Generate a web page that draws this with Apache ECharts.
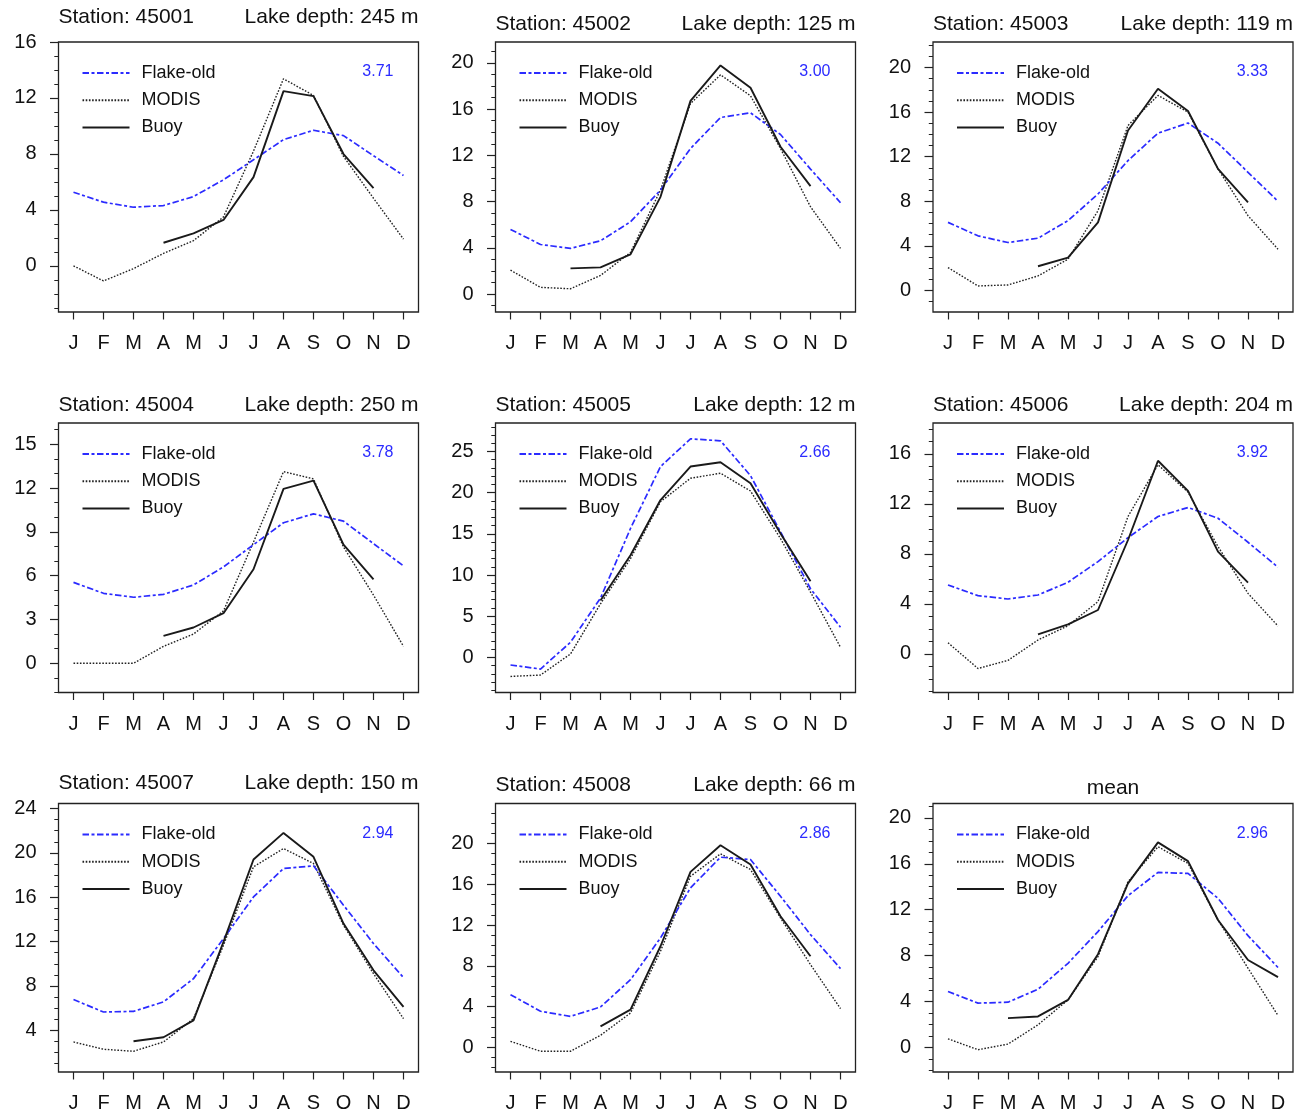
<!DOCTYPE html>
<html>
<head>
<meta charset="utf-8">
<script src="https://cdn.jsdelivr.net/npm/echarts@6/dist/echarts.min.js"></script>
<style>
html,body{margin:0;padding:0;background:#fff;}
#chart{width:1301px;height:1116px;}
</style>
</head>
<body>
<div id="chart"></div>
<script>
// ---------------- data ----------------
const months = ['J','F','M','A','M','J','J','A','S','O','N','D'];
const seriesNames = ['Flake-old','MODIS','Buoy'];
const stations = ['45001','45002','45003','45004','45005','45006','45007','45008','mean'];
const depths = ['245','125','119','250','12','204','150','66',null];
const scores = ['3.71','3.00','3.33','3.78','2.66','3.92','2.94','2.86','2.96'];
const yTicks = [
  [0,4,8,12,16],
  [0,4,8,12,16,20],
  [0,4,8,12,16,20],
  [0,3,6,9,12,15],
  [0,5,10,15,20,25],
  [0,4,8,12,16],
  [4,8,12,16,20,24],
  [0,4,8,12,16,20],
  [0,4,8,12,16,20]
];
const yRanges = [
  [-3.3,16],[-1.55,21.8],[-1.95,22.3],
  [-2.0,16.45],[-4.27,28.46],[-3.1,18.46],
  [0.24,24.45],[-2.42,23.93],[-2.14,21.25]
];
const flakeOld = [
  [5.26,4.55,4.19,4.31,4.95,6.15,7.58,9.02,9.69,9.31,7.87,6.46],
  [5.59,4.29,3.95,4.61,6.25,8.99,12.59,15.27,15.68,13.80,10.81,7.90],
  [6.10,4.89,4.29,4.68,6.25,8.65,11.65,14.11,15.02,13.21,10.60,7.99],
  [5.54,4.79,4.52,4.72,5.36,6.60,8.12,9.62,10.23,9.73,8.19,6.67],
  [-0.93,-1.42,1.83,7.20,15.65,23.17,26.54,26.30,22.07,15.24,8.33,3.66],
  [5.50,4.65,4.38,4.70,5.72,7.37,9.29,10.98,11.70,10.84,8.92,6.92],
  [6.77,5.65,5.71,6.56,8.66,12.27,16.03,18.59,18.83,15.28,11.82,8.75],
  [5.17,3.54,3.04,3.96,6.64,10.74,15.65,18.66,18.43,14.83,11.06,7.73],
  [4.87,3.86,3.94,5.07,7.33,10.09,13.22,15.25,15.16,12.99,9.74,6.96]
];
const modis = [
  [0.00,-1.08,-0.20,0.89,1.80,3.50,8.20,13.37,12.18,7.82,4.83,1.91],
  [2.07,0.58,0.46,1.61,3.60,9.00,16.48,18.96,17.15,12.59,7.55,3.95],
  [2.04,0.39,0.48,1.29,2.79,7.15,14.80,17.50,16.00,10.90,6.70,3.69],
  [0.00,0.00,0.00,1.16,2.00,3.59,8.30,13.12,12.62,7.96,4.67,1.16],
  [-2.32,-2.15,0.41,6.50,11.99,18.90,21.75,22.36,20.20,14.43,7.93,1.22],
  [0.88,-1.18,-0.53,1.10,2.24,4.17,10.98,15.12,12.93,8.57,4.83,2.22],
  [2.95,2.29,2.11,2.95,5.05,11.67,18.74,20.39,19.04,13.47,9.11,5.05],
  [0.59,-0.39,-0.39,1.18,3.37,9.43,16.79,18.99,17.45,12.70,8.12,3.80],
  [0.75,-0.20,0.29,1.97,4.14,7.91,14.43,17.48,16.03,11.10,6.90,2.78]
];
const buoy = [
  [null,null,null,1.65,2.32,3.28,6.34,12.49,12.13,7.99,5.55,null],
  [null,null,2.22,2.31,3.43,8.41,16.71,19.77,17.84,12.74,9.34,null],
  [null,null,null,2.16,2.94,6.10,14.35,18.10,16.10,10.90,7.90,null],
  [null,null,null,1.88,2.45,3.43,6.44,11.94,12.50,8.12,5.74,null],
  [null,null,null,6.90,12.40,19.10,23.17,23.70,21.14,15.04,9.23,null],
  [null,null,null,1.55,2.35,3.50,9.10,15.44,13.03,8.17,5.69,null],
  [null,null,3.01,3.37,4.90,11.97,19.40,21.80,19.64,13.62,9.41,6.11],
  [null,null,null,2.06,3.70,9.92,17.22,19.84,17.94,12.86,8.94,null],
  [null,null,2.55,2.70,4.14,8.12,14.29,17.86,16.23,11.10,7.62,6.12]
];

// ---------------- layout ----------------
const W = 1301;
const colLeft = [58.5, 495.5, 933];
const colWidth = 360;
const rowTop = [42, 423, 803.5];
const rowHeight = [270, 269.5, 268.5];
const titleTop = [[6.5,13.5,13.5],[394.5,394.5,394.5],[772.5,774.5,777.5]];
const FONT = "'Liberation Sans', Arial, Helvetica, sans-serif";
const TXT = '#111';
const BLUE = '#2b2bff';

const option = {
  animation: false,
  backgroundColor: '#fff',
  grid: [], xAxis: [], yAxis: [], series: [], title: [], legend: []
};

for (let p = 0; p < 9; p++) {
  const r = Math.floor(p / 3), c = p % 3;
  const left = colLeft[c], top = rowTop[r], h = rowHeight[r];
  option.grid.push({
    left: left, top: top, width: colWidth, height: h,
    show: true, borderColor: '#222', borderWidth: 1.3, backgroundColor: 'transparent'
  });
  option.xAxis.push({
    type: 'category', gridIndex: p, data: months, boundaryGap: true, position: 'bottom',
    axisLine: {show: false, onZero: false},
    axisTick: {show: true, alignWithLabel: true, length: 7.5, lineStyle: {color: '#222', width: 1.2}},
    axisLabel: {show: true, interval: 0, margin: 21.5, fontSize: 20, color: TXT, fontFamily: FONT},
    splitLine: {show: false}
  });
  const [ymin, ymax] = yRanges[p];
  const minor = [];
  for (let v = Math.ceil(ymin); v <= Math.floor(ymax); v++) minor.push(v);
  // major ticks + labels
  option.yAxis.push({
    type: 'value', gridIndex: p, min: ymin, max: ymax, scale: true,
    axisLine: {show: false, onZero: false},
    axisTick: {show: true, length: 8.5, customValues: yTicks[p], lineStyle: {color: '#222', width: 1.2}},
    axisLabel: {show: true, customValues: yTicks[p], margin: 22, fontSize: 20, color: TXT, fontFamily: FONT},
    splitLine: {show: false}
  });
  // minor ticks
  option.yAxis.push({
    type: 'value', gridIndex: p, min: ymin, max: ymax, scale: true, position: 'left',
    axisLine: {show: false, onZero: false},
    axisTick: {show: true, length: 4.2, customValues: minor, lineStyle: {color: '#222', width: 1}},
    axisLabel: {show: false},
    splitLine: {show: false}
  });
  const yIdx = p * 2;
  option.series.push({
    name: 'Flake-old', type: 'line', xAxisIndex: p, yAxisIndex: yIdx,
    data: flakeOld[p], symbol: 'none', silent: true,
    lineStyle: {color: BLUE, width: 1.7, type: [6.5, 2.5, 3, 2.5]}, itemStyle: {color: BLUE}, z: 3
  });
  option.series.push({
    name: 'MODIS', type: 'line', xAxisIndex: p, yAxisIndex: yIdx,
    data: modis[p], symbol: 'none', silent: true,
    lineStyle: {color: '#222', width: 1.4, type: [1.6, 1.6]}, itemStyle: {color: '#222'}, z: 2
  });
  option.series.push({
    name: 'Buoy', type: 'line', xAxisIndex: p, yAxisIndex: yIdx,
    data: buoy[p], symbol: 'none', silent: true, connectNulls: false,
    lineStyle: {color: '#1a1a1a', width: 1.9, type: 'solid'}, itemStyle: {color: '#1a1a1a'}, z: 4
  });
  // titles
  const tTop = titleTop[r][c];
  if (depths[p] !== null) {
    option.title.push({
      text: 'Station: ' + stations[p], left: left, top: tTop, padding: 0,
      textStyle: {fontSize: 21, fontWeight: 'normal', color: TXT, fontFamily: FONT}
    });
    option.title.push({
      text: 'Lake depth: ' + depths[p] + ' m', right: W - (left + colWidth), top: tTop, padding: 0,
      textStyle: {fontSize: 21, fontWeight: 'normal', color: TXT, fontFamily: FONT}
    });
  } else {
    option.title.push({
      text: stations[p], left: left + colWidth / 2, top: tTop, padding: 0, textAlign: 'center',
      textStyle: {fontSize: 21, fontWeight: 'normal', color: TXT, fontFamily: FONT}
    });
  }
  option.title.push({
    text: scores[p], right: W - (left + colWidth - 25), top: top + 22, padding: 0,
    textStyle: {fontSize: 16, fontWeight: 'normal', color: BLUE, fontFamily: FONT}
  });
  // legend
  option.legend.push({
    data: seriesNames, orient: 'vertical', left: left + 23, top: top + 22, padding: 0,
    itemWidth: 47, itemHeight: 20, itemGap: 9.2, selectedMode: false,
    itemStyle: {opacity: 0},
    textStyle: {fontSize: 18, color: TXT, fontFamily: FONT, padding: [0, 0, 0, 7]}
  });
}

const chart = echarts.init(document.getElementById('chart'), null, {renderer: 'canvas'});
chart.setOption(option);
</script>
</body>
</html>
